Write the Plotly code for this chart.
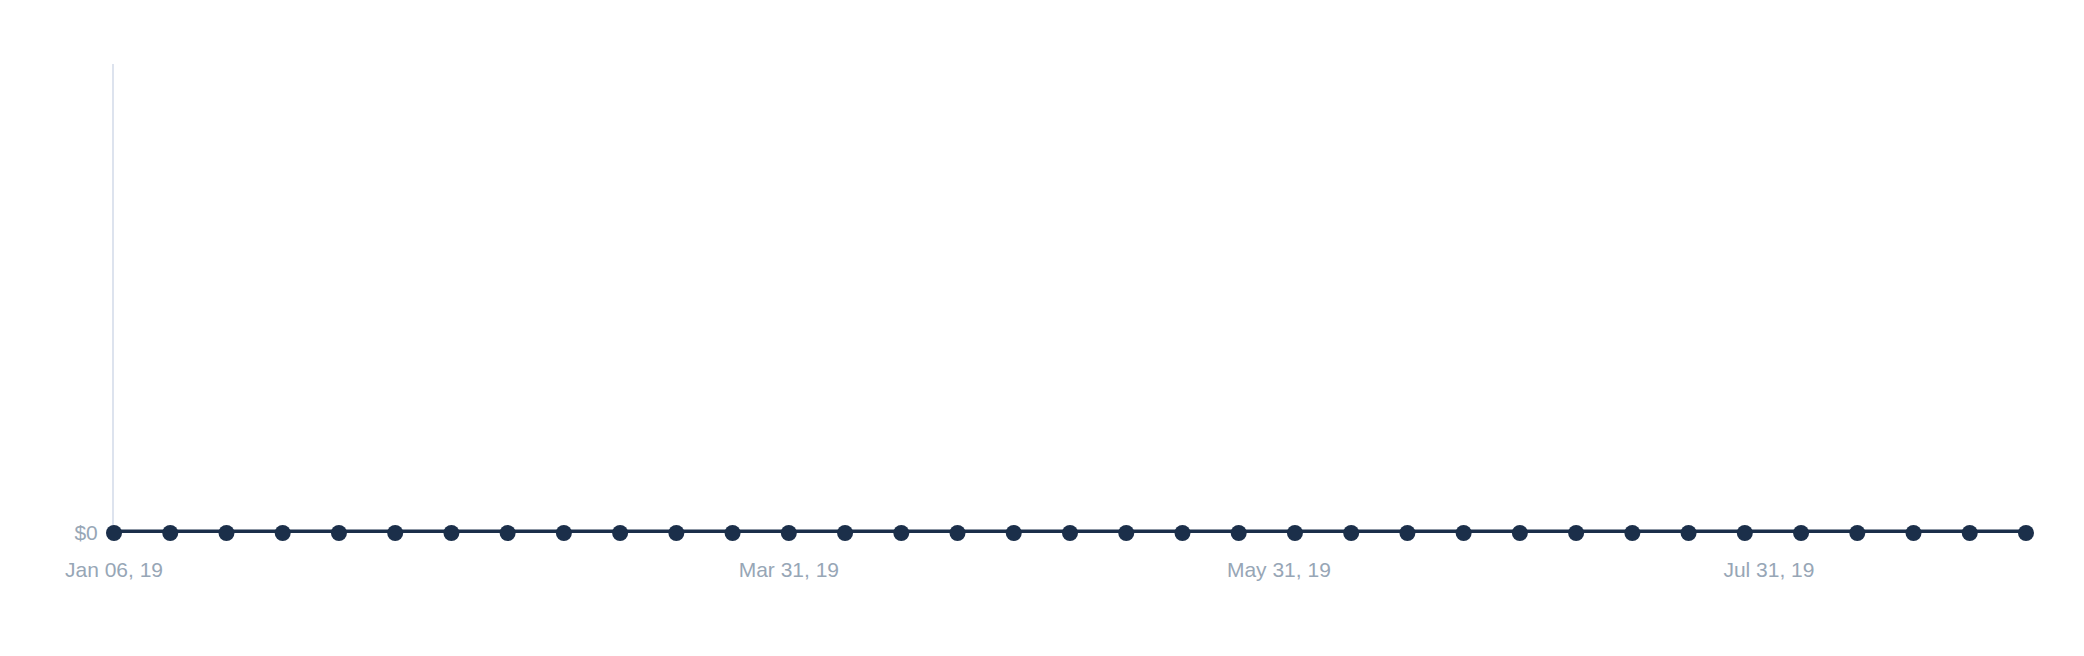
import plotly.graph_objects as go

weeks = [
    "2019-01-06", "2019-01-13", "2019-01-20", "2019-01-27", "2019-02-03",
    "2019-02-10", "2019-02-17", "2019-02-24", "2019-03-03", "2019-03-10",
    "2019-03-17", "2019-03-24", "2019-03-31", "2019-04-07", "2019-04-14",
    "2019-04-21", "2019-04-28", "2019-05-05", "2019-05-12", "2019-05-19",
    "2019-05-26", "2019-06-02", "2019-06-09", "2019-06-16", "2019-06-23",
    "2019-06-30", "2019-07-07", "2019-07-14", "2019-07-21", "2019-07-28",
    "2019-08-04", "2019-08-11", "2019-08-18", "2019-08-25", "2019-09-01",
]
revenue = [0] * 35
tick_dates = ["2019-01-06", "2019-03-31", "2019-05-31", "2019-07-31"]
tick_labels = ["Jan 06, 19", "Mar 31, 19", "May 31, 19", "Jul 31, 19"]
y_ticks = [0]
y_labels = ["$0"]

fig = go.Figure()
fig.add_trace(go.Scatter(
    x=weeks, y=revenue, mode="lines+markers",
    line=dict(color="#1b2f4a", width=7),
    marker=dict(color="#1b2f4a", size=16, line=dict(width=0)),
    cliponaxis=False,
    hoverinfo="skip",
))

font_color = "#97a6b6"
fig.update_layout(
    width=2084, height=656,
    margin=dict(l=106, r=66, t=56, b=131),
    paper_bgcolor="white", plot_bgcolor="white",
    showlegend=False,
    font=dict(family="Liberation Sans, Arial, sans-serif", size=21, color=font_color),
    xaxis=dict(
        type="date",
        range=[weeks[0], weeks[-1]],
        tickvals=tick_dates, ticktext=tick_labels,
        showgrid=False, zeroline=False, showline=False,
        ticks="", ticklabelstandoff=22,
        tickfont=dict(size=21, color=font_color),
        layer="below traces",
    ),
    yaxis=dict(
        range=[0, 1],
        tickvals=y_ticks, ticktext=y_labels,
        showgrid=False, zeroline=False,
        showline=True, linecolor="#dde3ee", linewidth=2,
        ticks="", ticklabelstandoff=10,
        tickfont=dict(size=21, color=font_color),
        layer="below traces",
    ),
)

fig.write_html("out.html")
